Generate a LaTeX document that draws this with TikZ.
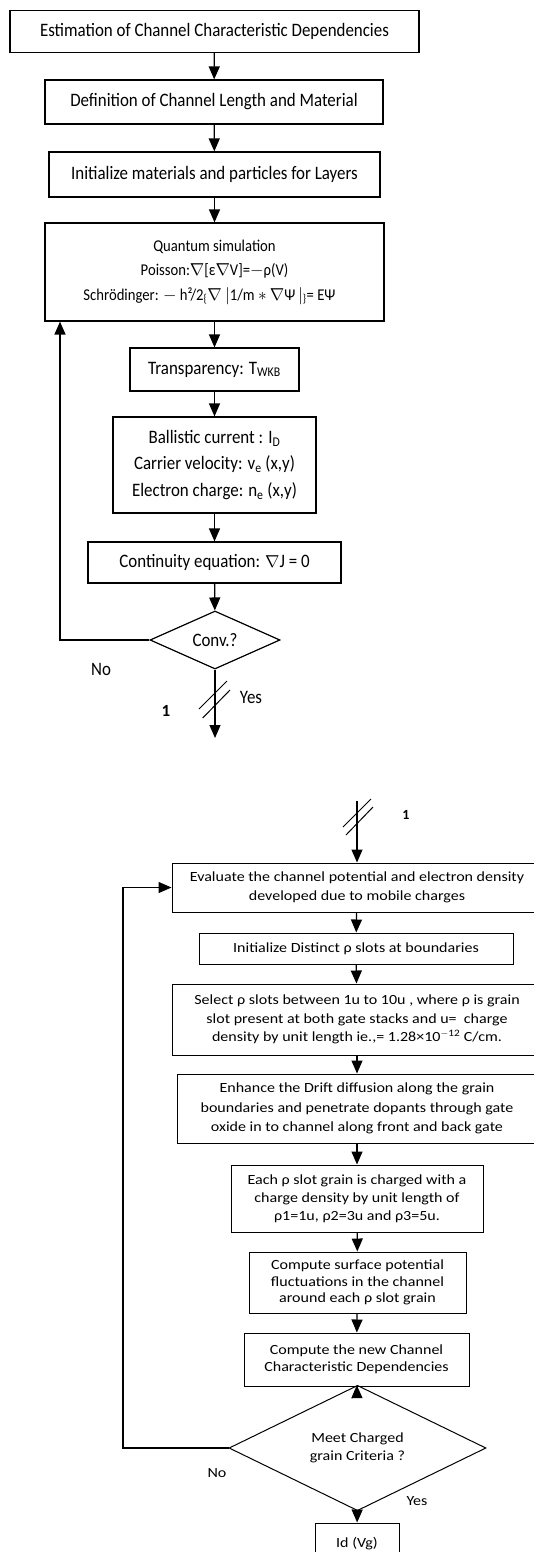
\documentclass[tikz,border=0pt]{standalone}
\usepackage{fontspec}
\setmainfont{Carlito}
\newfontfamily\tallfont{Carlito}[FakeStretch=0.89]
\newfontfamily\widefont{Carlito}[FakeStretch=1.145]
\usetikzlibrary{arrows.meta,shapes.geometric}
\tikzset{
  stepbox/.style={draw,line width=1.2pt,align=center,inner sep=2pt,font=\tallfont\fontsize{19}{26.5}\selectfont},
  slotbox/.style={draw,line width=1pt,align=center,inner sep=2pt,font=\widefont\fontsize{14}{18.5}\selectfont},
  decide/.style={diamond,draw,line width=1.2pt,inner sep=0pt,align=center},
  flow/.style={-{Triangle[width=11pt,length=13pt]},line width=1.3pt},
  slash/.style={line width=1pt},
  toplbl/.style={font=\tallfont\fontsize{19}{22}\selectfont},
  botlbl/.style={font=\widefont\fontsize{14}{17}\selectfont}
}

\begin{document}
\begin{tikzpicture}[x=1pt,y=-1pt]
\useasboundingbox (0,0) rectangle (534,1552);
% first loop: quantum transport
\node[stepbox,minimum width=409pt,minimum height=42pt] (est) at (214.5,31.5){Estimation of Channel Characteristic Dependencies};
\node[stepbox,minimum width=338pt,minimum height=44pt] (defn) at (214,102){Definition of Channel Length and Material};
\node[stepbox,minimum width=331pt,minimum height=45pt] (init) at (214.5,174.5){Initialize materials and particles for Layers};
\node[stepbox,minimum width=339pt,minimum height=98pt,font=\tallfont\fontsize{16.5}{24.5}\selectfont] (quant) at (214.5,272){Quantum simulation\\
  Poisson:$\nabla$[ε$\nabla$V]=$-$ρ(V)\\
  \hspace*{-10pt}Schrödinger: $-$ h²/2\textsubscript{\{}$\nabla$\ $\big|$1/m $*$ $\nabla$Ψ\,$\big|$\textsubscript{\}}= EΨ};
\node[stepbox,minimum width=169pt,minimum height=43pt] (transp) at (214.5,369.5){Transparency: T\textsubscript{WKB}};
\node[stepbox,minimum width=203pt,minimum height=96pt] (ballis) at (214.5,465){Ballistic current : I\textsubscript{D}\\
  Carrier velocity: v\textsubscript{e} (x,y)\\
  Electron charge: n\textsubscript{e} (x,y)};
\node[stepbox,minimum width=253pt,minimum height=41pt] (contin) at (214.5,562.5){Continuity equation: $\nabla$J = 0};
\node[decide,minimum width=130pt,minimum height=55pt,font=\tallfont\fontsize{19}{22}\selectfont] (conv) at (215,640){Conv.?};
\coordinate (out1) at (215,738);
\coordinate (loopA) at (60,640);

\draw[flow] (est) -- (defn);
\draw[flow] (defn) -- (init);
\draw[flow] (init) -- (quant);
\draw[flow] (quant) -- (transp);
\draw[flow] (transp) -- (ballis);
\draw[flow] (ballis) -- (contin);
\draw[flow] (contin) -- (conv);
\draw[flow] (conv) -- (out1);
\draw[flow] (conv.west) -- (loopA) -- (loopA |- quant.south);
\draw[slash] (199,709) -- (227,681);
\draw[slash] (202.7,718) -- (230,690);
\node[toplbl] (no1) at (101,669){No};
\node[toplbl] (yes1) at (251,697){Yes};
\node[font=\fontsize{17}{19}\selectfont\bfseries] (one1) at (166,711){1};

% second loop: charged grains
\coordinate (in1) at (357,801);
\node[slotbox,minimum width=370pt,minimum height=49pt] (evalpot) at (357,887.5){Evaluate the channel potential and electron density\\developed due to mobile charges};
\node[slotbox,minimum width=314pt,minimum height=31pt] (slots) at (356,948.5){Initialize Distinct ρ slots at boundaries};
\node[slotbox,minimum width=370pt,minimum height=71pt] (select) at (357,1019.5){Select ρ slots between 1u to 10u , where ρ is grain\\
  slot present at both gate stacks and u= \ charge\\
  density by unit length ie.,= 1.28×10\textsuperscript{$-$12} C/cm.};
\node[slotbox,minimum width=360pt,minimum height=69pt,font=\widefont\fontsize{14}{19.5}\selectfont] (drift) at (357,1108.5){Enhance the Drift diffusion along the grain\\
  boundaries and penetrate dopants through gate\\
  oxide in to channel along front and back gate};
\node[slotbox,minimum width=252pt,minimum height=67pt,font=\widefont\fontsize{14}{18}\selectfont] (grain) at (357,1198.5){Each ρ slot grain is charged with a\\
  charge density by unit length of\\
  ρ1=1u, ρ2=3u and ρ3=5u.};
\node[slotbox,minimum width=217pt,minimum height=61pt,font=\widefont\fontsize{14}{16.5}\selectfont] (surf) at (357.5,1282.5){Compute surface potential\\
  fluctuations in the channel\\
  around each ρ slot grain};
\node[slotbox,minimum width=225pt,minimum height=53pt,font=\widefont\fontsize{14}{16.5}\selectfont] (newdep) at (356.5,1359.5){Compute the new Channel\\Characteristic Dependencies};
\node[decide,line width=1pt,minimum width=257pt,minimum height=83pt,font=\widefont\fontsize{14}{18}\selectfont] (meet) at (357.5,1448){Meet Charged\\grain Criteria ?};
\node[slotbox,minimum width=84pt,minimum height=42pt] (idvg) at (357,1544){Id (Vg)};
\coordinate (loopB) at (123,1448);

\draw[flow] (in1) -- (evalpot);
\draw[flow] (evalpot) -- (slots);
\draw[flow] (slots) -- (select);
\draw[flow] (select) -- (drift);
\draw[flow] (drift) -- (grain);
\draw[flow] (grain) -- (surf);
\draw[flow] (surf) -- (newdep);
\draw[flow] (newdep) -- (meet);
\draw[flow] (meet) -- (idvg);
\draw[flow] (meet.west) -- (loopB) |- (evalpot.west);
\draw[slash] (343,827) -- (371,799);
\draw[slash] (346,835) -- (373,807);
\node[font=\fontsize{14}{16}\selectfont\bfseries] (one2) at (406,815){1};
\node[botlbl] (no2) at (217,1473){No};
\node[botlbl] (yes2) at (417,1501){Yes};
\end{tikzpicture}
\end{document}
